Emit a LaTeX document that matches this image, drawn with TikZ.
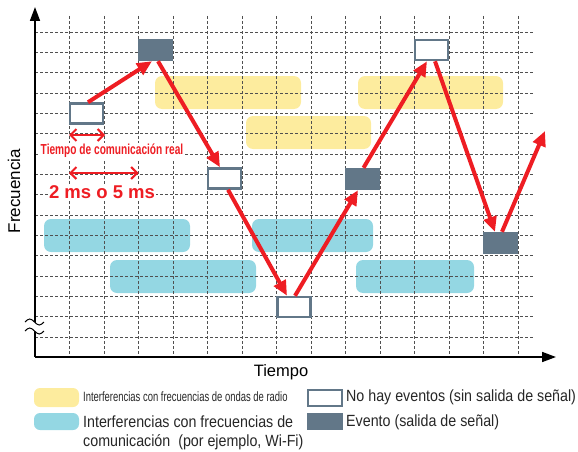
\documentclass[tikz,border=0pt]{standalone}
\usepackage{fontspec}
\setmainfont{Liberation Sans}
\newfontfamily\condfont[FakeStretch=0.88]{Liberation Sans}
\newfontfamily\narrowfont[FakeStretch=0.70]{Liberation Sans}
\usetikzlibrary{arrows.meta}
\definecolor{evred}{HTML}{EE1D23}
\definecolor{evdark}{HTML}{627788}
\definecolor{radioyel}{HTML}{FDEC9E}
\definecolor{wificyan}{HTML}{94D7E3}
\definecolor{gridgray}{HTML}{505050}
\tikzset{
  gridline/.style={gridgray, line width=0.9pt, dash pattern=on 3pt off 2pt},
  axisline/.style={black, line width=1.6pt, -{Triangle[length=14pt,width=10pt]}},
  emptybox/.style={draw=evdark, line width=2.5pt, fill=white, minimum width=33pt, minimum height=20pt, inner sep=0pt},
  eventbox/.style={fill=evdark, minimum width=35pt, minimum height=22pt, inner sep=0pt},
  hop/.style={evred, line width=4pt, -{Triangle[length=15pt,width=13pt]}},
  span/.style={evred, line width=2pt, {Straight Barb[length=6pt,width=12pt,line width=2pt]}-{Straight Barb[length=6pt,width=12pt,line width=2pt]}},
  radiobar/.style={fill=radioyel, rounded corners=7pt},
  wifibar/.style={fill=wificyan, rounded corners=7pt},
  legtext/.style={anchor=west, inner sep=0pt, font=\condfont\fontsize{16.2}{19}\selectfont, text=black!85},
}
\begin{document}
\begin{tikzpicture}[x=1pt,y=-1pt]
\useasboundingbox (0,0) rectangle (578,452);
% interference bars
\path[radiobar] (155,76) rectangle (301,109);
\path[radiobar] (246,116) rectangle (371,149);
\path[radiobar] (358,76) rectangle (503,109);
\path[wifibar] (44,219) rectangle (190,252);
\path[wifibar] (110,260) rectangle (256,293);
\path[wifibar] (252,219) rectangle (373,252);
\path[wifibar] (356,260) rectangle (474,293);
% grid
\foreach \k in {1,...,14} \draw[gridline] ({35+34.5*\k},16) -- ({35+34.5*\k},357);
\foreach \k in {0,...,15} \draw[gridline] (35,{32+20.333*\k}) -- (533,{32+20.333*\k});
% axes
\coordinate (origin) at (35,357);
\coordinate (ytop) at (35,7);
\coordinate (xend) at (556,357);
\draw[axisline] (origin) -- (ytop);
\draw[axisline] (origin) -- (xend);
% break mark
\fill[white] (25,322) sin (29.75,319) cos (34.5,322) sin (39.25,325) cos (44,322)
  -- (44,331) sin (39.25,334) cos (34.5,331) sin (29.75,328) cos (25,331) -- cycle;
\draw[black, line width=1pt] (25,322) sin (29.75,319) cos (34.5,322) sin (39.25,325) cos (44,322);
\draw[black, line width=1pt] (25,331) sin (29.75,328) cos (34.5,331) sin (39.25,334) cos (44,331);
% axis labels
\node[rotate=90, font=\fontsize{17}{20}\selectfont] (ylab) at (14,191) {Frecuencia};
\node[font=\fontsize{16.5}{20}\selectfont] (xlab) at (281,372) {Tiempo};
% boxes
\node[emptybox] (b1) at (86.5,113.5) {};
\node[eventbox] (b2) at (155.5,50) {};
\node[emptybox] (b3) at (224.5,178.5) {};
\node[emptybox] (b4) at (294,307) {};
\node[eventbox] (b5) at (362.5,179) {};
\node[emptybox] (b6) at (431.5,50) {};
\node[eventbox] (b7) at (500.5,243) {};
\coordinate (free) at (545,131);
% hops
\draw[hop] ([xshift=1.5pt]b1.north) -- ([xshift=-3.5pt]b2.south);
\draw[hop] ([xshift=2.5pt]b2.south) -- ([xshift=-4.5pt]b3.north);
\draw[hop] ([xshift=3.5pt]b3.south) -- ([xshift=-7pt]b4.north);
\draw[hop] ([xshift=1pt]b4.north) -- ([xshift=-4.5pt]b5.south);
\draw[hop] ([xshift=1pt]b5.north) -- ([xshift=-4.5pt]b6.south);
\draw[hop] ([xshift=3.5pt]b6.south) -- ([xshift=-5.5pt]b7.north);
\draw[hop] ([xshift=1.5pt]b7.north) -- (free);
% time spans
\coordinate (s1a) at (69,135);
\coordinate (s1b) at (105,135);
\coordinate (s2a) at (69,173);
\coordinate (s2b) at (138.5,173);
\draw[span] (s1a) -- (s1b);
\draw[span] (s2a) -- (s2b);
\node[fill=white, inner sep=1pt, text=evred, font=\narrowfont\bfseries\fontsize{14.5}{16}\selectfont] (realt) at (112,151) {Tiempo de comunicación real};
\node[fill=white, inner sep=1pt, text=evred, font=\bfseries\fontsize{18.5}{20}\selectfont] (mst) at (102,192) {2 ms o 5 ms};
% legend
\path[radiobar, rounded corners=6pt] (34,388) rectangle (79,407);
\path[wifibar, rounded corners=6pt] (34,413) rectangle (79,430);
\node[legtext, font=\narrowfont\fontsize{13.5}{16}\selectfont] (l1) at (83,397) {Interferencias con frecuencias de ondas de radio};
\node[legtext] (l2) at (83,422) {Interferencias con frecuencias de};
\node[legtext] (l3) at (83,442) {comunicación\ \ (por ejemplo, Wi-Fi)};
\node[emptybox, minimum width=34pt, minimum height=16pt] (lg1) at (325,398) {};
\node[eventbox, minimum width=36pt, minimum height=17pt] (lg2) at (325,421.5) {};
\node[legtext] (l4) at (346,397) {No hay eventos (sin salida de señal)};
\node[legtext] (l5) at (346,422) {Evento (salida de señal)};
\end{tikzpicture}
\end{document}
